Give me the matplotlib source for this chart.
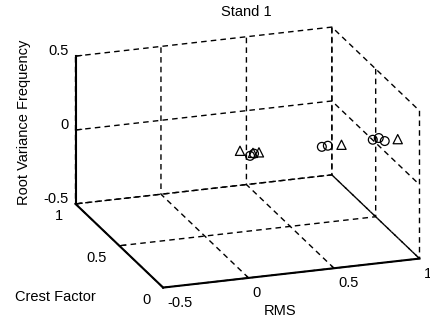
import numpy as np
import matplotlib
matplotlib.use("Agg")
import matplotlib.pyplot as plt
from mpl_toolkits.mplot3d import proj3d

plt.rcParams['font.family'] = ['Liberation Sans', 'DejaVu Sans']
plt.rcParams['grid.color'] = 'k'
plt.rcParams['grid.linestyle'] = (0, (4, 3))
plt.rcParams['grid.linewidth'] = 1.0

# ---- data ----
title = "Stand 1"
x_label = "RMS"
y_label = "Crest Factor"
z_label = "Root Variance Frequency"

circ_rms = [0.265, 0.288, 0.685, 0.72, 0.983, 1.018, 1.053]
circ_cf = [0.5, 0.5, 0.5, 0.5, 0.5, 0.5, 0.5]
circ_rvf = [0.008, 0.02, 0.014, 0.017, 0.023, 0.03, 0.005]

tri_rms = [0.206, 0.282, 0.317, 0.80, 1.129]
tri_cf = [0.5, 0.5, 0.5, 0.5, 0.5]
tri_rvf = [0.05, 0.026, 0.025, 0.013, 0.008]

x_ticks = [-0.5, 0, 0.5, 1]
y_ticks = [0, 0.5, 1]
z_ticks = [-0.5, 0, 0.5]
x_ticklabels = ["-0.5", "0", "0.5", "1"]
y_ticklabels = ["0", "0.5", "1"]
z_ticklabels = ["-0.5", "0", "0.5"]

FS = 10.5
W, H = 431, 324
fig = plt.figure(figsize=(W / 100, H / 100), dpi=100)
ax = fig.add_axes([0.1, 0.1, 0.6, 0.6 * W / H], projection='3d')
ax.set_proj_type('ortho')
ax.view_init(elev=19.2, azim=-109)
ax.set_box_aspect((272, 270, 157))

ax.set_xlim(-0.5, 1)
ax.set_ylim(0, 1)
ax.set_zlim(-0.5, 0.5)
ax.set_xticks(x_ticks)
ax.set_yticks(y_ticks)
ax.set_zticks(z_ticks)
ax.set_xticklabels([""] * len(x_ticks))
ax.set_yticklabels([""] * len(y_ticks))
ax.set_zticklabels([""] * len(z_ticks))

for axis in (ax.xaxis, ax.yaxis, ax.zaxis):
    axis.set_pane_color((1, 1, 1, 0))
    axis.pane.set_edgecolor('none')
    axis.line.set_color('k')
    axis.line.set_linewidth(1.5)
    axis._axinfo['tick']['inward_factor'] = 0.0
    axis._axinfo['tick']['outward_factor'] = 0.3
    axis.set_tick_params(colors='k', width=1.0)

ax.scatter(circ_rms, circ_cf, circ_rvf, marker='o', s=40, facecolors='none',
           edgecolors='k', linewidths=0.9, depthshade=False)
ax.scatter(tri_rms, tri_cf, tri_rvf, marker='^', s=44, facecolors='none',
           edgecolors='k', linewidths=0.9, depthshade=False)


def to_pixels(pt):
    M = ax.get_proj()
    px, py, _ = proj3d.proj_transform(pt[0], pt[1], pt[2], M)
    dx, dy = ax.transData.transform((px, py))
    return dx, dy


# ---- fit axes position so the box lands where the reference box is ----
fig.canvas.draw()
corners = [(-0.5, 0, -0.5), (1, 0, -0.5), (-0.5, 1, 0.5), (-0.5, 1, -0.5), (1, 1, 0.5), (1, 0, 0.5)]
targets = [(163, 287), (420, 258), (75, 55), (75, 203), (332, 29), (420, 112)]
pos = ax.get_position()
ox, oy = pos.x0 * W, pos.y0 * H
size = pos.width * W
rows, rhs = [], []
for c, (tx, ty) in zip(corners, targets):
    dx, dy = to_pixels(c)
    nx, ny = (dx - ox) / size, (dy - oy) / size
    rows.append([1, 0, nx]); rhs.append(tx)
    rows.append([0, 1, ny]); rhs.append(H - ty)
sol, *_ = np.linalg.lstsq(np.array(rows), np.array(rhs), rcond=None)
nox, noy, nsize = sol
ax.set_position([nox / W, noy / H, nsize / W, nsize / H])
fig.canvas.draw()

# ---- tick labels placed next to the projected tick positions ----
def put(pt, s, dx, dy, ha):
    px, py = to_pixels(pt)
    fig.text((px + dx) / W, (py - dy) / H, s, ha=ha, va='center', fontsize=FS)

for v, s in zip(x_ticks, x_ticklabels):
    put((v, 0, -0.5), s, 4, 15, 'left')
for v, s in zip(y_ticks, y_ticklabels):
    put((-0.5, v, -0.5), s, -13, 12, 'right')
for v, s in zip(z_ticks, z_ticklabels):
    put((-0.5, 1, v), s, -7, -5, 'right')

fig.text(246 / W, 1 - 12 / H, title, ha='center', va='center', fontsize=FS)
fig.text(24 / W, 1 - 122 / H, z_label, ha='center', va='center', rotation=90, fontsize=FS)
fig.text(55 / W, 1 - 297 / H, y_label, ha='center', va='center', fontsize=FS)
fig.text(280 / W, 1 - 311 / H, x_label, ha='center', va='center', fontsize=FS)

fig.savefig("out.png", dpi=100)
